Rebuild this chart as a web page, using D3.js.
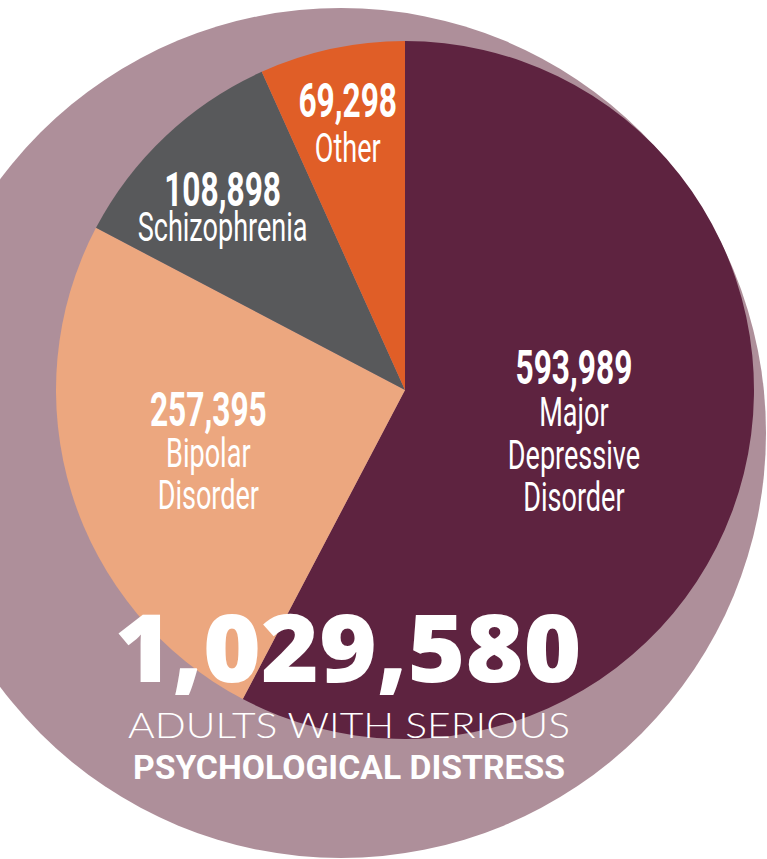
<!DOCTYPE html>
<html>
<head>
<meta charset="utf-8">
<script src="https://cdn.jsdelivr.net/npm/d3@7"></script>
<style>
  body { margin: 0; background: #fff; }
</style>
</head>
<body>
<div id="chart"></div>
<script>
// Data
const categories = ["Major Depressive Disorder", "Bipolar Disorder", "Schizophrenia", "Other"];
const values = [593989, 257395, 108898, 69298];
const labelLines = [["Major", "Depressive", "Disorder"], ["Bipolar", "Disorder"], ["Schizophrenia"], ["Other"]];
const totalCaption = ["ADULTS WITH SERIOUS", "PSYCHOLOGICAL DISTRESS"];

// Styling / layout
const colors = ["#5e2340", "#eca77f", "#58595b", "#e05e27"];
const labelRadius = [174, 206, 258, 273];
const labelAngleShift = [0, 0, -0.03, 0];
const lineGap = [42.5, 41.5, 35, 45];

const width = 767, height = 859;
const cx = 405, cy = 390, radius = 349;

const svg = d3.select("#chart")
    .append("svg")
    .attr("width", width)
    .attr("height", height);

svg.append("rect")
    .attr("width", width)
    .attr("height", height)
    .attr("fill", "white");

// Big backdrop circle
svg.append("circle")
    .attr("cx", 341)
    .attr("cy", 433)
    .attr("r", 425)
    .attr("fill", "#ae8f9a");

const color = d3.scaleOrdinal()
    .domain(categories)
    .range(colors);

const pie = d3.pie()
    .sort(null)
    .value(d => d.value);

const data = categories.map((c, i) => ({ name: c, value: values[i], lines: labelLines[i], idx: i }));
const arcs = pie(data);

const arc = d3.arc()
    .innerRadius(0)
    .outerRadius(radius);

const g = svg.append("g")
    .attr("transform", `translate(${cx},${cy})`);

g.selectAll("path")
    .data(arcs)
    .join("path")
    .attr("d", arc)
    .attr("fill", d => color(d.data.name));

// Slice labels: bold number then the category name, condensed
const fmt = d3.format(",");
const labels = g.selectAll(".slice-label")
    .data(arcs)
    .join("g")
    .attr("class", "slice-label")
    .attr("transform", d => {
        const r = labelRadius[d.data.idx];
        const a = (d.startAngle + d.endAngle) / 2 + labelAngleShift[d.data.idx];
        return `translate(${r * Math.sin(a)},${-r * Math.cos(a)})`;
    });

labels.each(function (d) {
    const lines = [fmt(d.data.value)].concat(d.data.lines);
    const n = lines.length;
    const gap = lineGap[d.data.idx];
    d3.select(this).selectAll("text")
        .data(lines)
        .join("text")
        .attr("transform", (t, i) => `translate(0,${16 + (i - (n - 1) / 2) * gap}) scale(0.66,1)`)
        .attr("text-anchor", "middle")
        .attr("fill", "white")
        .attr("font-family", "Roboto, sans-serif")
        .attr("font-weight", (t, i) => i === 0 ? 700 : 400)
        .attr("font-size", (t, i) => i === 0 ? 48 : 41)
        .text(t => t);
});

// Total in the lower part
const total = d3.sum(values);

svg.append("text")
    .attr("x", 348)
    .attr("y", 682)
    .attr("text-anchor", "middle")
    .attr("fill", "white")
    .attr("font-family", "'Open Sans', sans-serif")
    .attr("font-weight", 800)
    .attr("font-size", 94)
    .attr("textLength", 467)
    .attr("lengthAdjust", "spacingAndGlyphs")
    .text(fmt(total));

svg.append("text")
    .attr("x", 349)
    .attr("y", 738)
    .attr("text-anchor", "middle")
    .attr("fill", "white")
    .attr("font-family", "Lato, sans-serif")
    .attr("font-weight", 300)
    .attr("font-size", 35)
    .attr("textLength", 442)
    .attr("lengthAdjust", "spacingAndGlyphs")
    .text(totalCaption[0]);

svg.append("text")
    .attr("x", 349)
    .attr("y", 779)
    .attr("text-anchor", "middle")
    .attr("fill", "white")
    .attr("font-family", "Roboto, sans-serif")
    .attr("font-weight", 700)
    .attr("font-size", 34)
    .attr("textLength", 432)
    .attr("lengthAdjust", "spacingAndGlyphs")
    .text(totalCaption[1]);
</script>
</body>
</html>
